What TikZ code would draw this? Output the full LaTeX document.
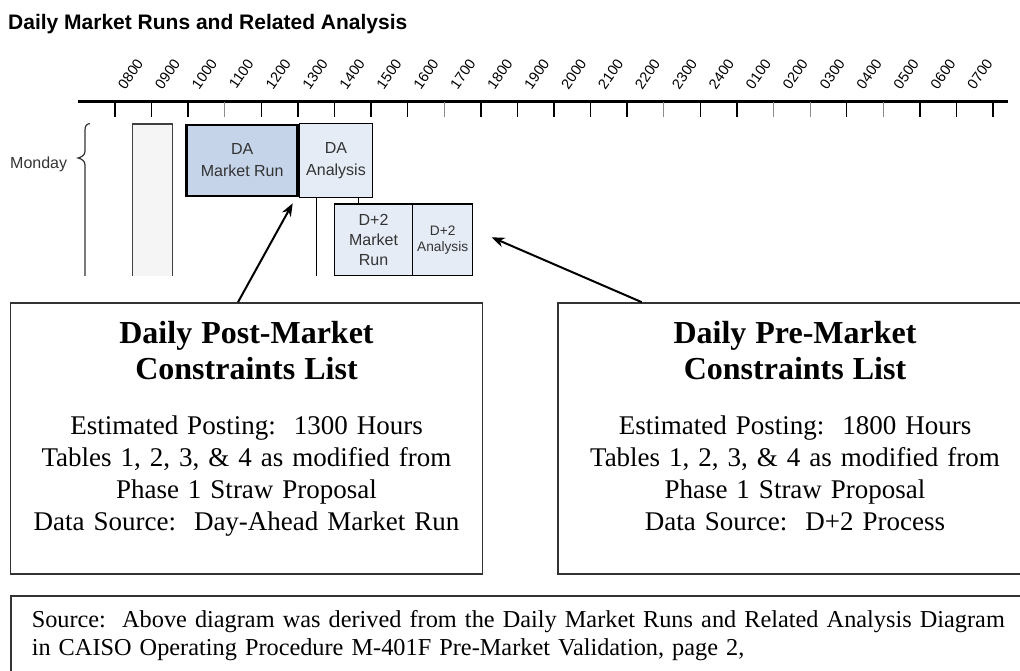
\documentclass[tikz,border=0pt]{standalone}
\usepackage{fontspec}
\setmainfont{Liberation Serif}
\setsansfont{Liberation Sans}
\usepackage[dvipsnames]{xcolor}
\usetikzlibrary{arrows.meta, shapes}
\definecolor{runblue}{HTML}{C6D4EA}
\definecolor{anablue}{HTML}{E6ECF6}
\definecolor{pregray}{HTML}{F5F5F5}
\definecolor{labelgray}{HTML}{333333}
\newcommand{\listhead}{\bfseries\fontsize{32}{36.7}\selectfont}
\tikzstyle{hourlabel} = [rotate=55, inner sep=0pt, font=\sffamily\fontsize{14.5}{14.5}\selectfont, text=black]
\tikzstyle{hourtick} = [line width=1.5pt, draw=black]
\tikzstyle{halftick} = [line width=1pt, draw=black!45]
\tikzstyle{runbox} = [rectangle, draw=black, line width=1.2pt, fill=anablue, text centered, align=center, inner sep=1pt, text=labelgray, font=\sffamily\fontsize{16}{22}\selectfont]
\tikzstyle{listbox} = [rectangle, draw=black!80, line width=1.5pt, fill=white, minimum width=472pt, minimum height=271pt, text width=450pt, align=center, font=\fontsize{27}{31.7}\selectfont]
\tikzstyle{sourcebox} = [rectangle, draw=black!80, line width=1.5pt, anchor=north west, inner xsep=21pt, inner ysep=15pt, text width=1000pt, align=left, font=\fontsize{24.3}{27.3}\selectfont]
\tikzstyle{arrow} = [line width=2pt, -{Stealth[length=13pt, width=10pt]}]

\begin{document}
\begin{tikzpicture}[x=1pt, y=-1pt]

\useasboundingbox (0,0) rectangle (1020,670);
\clip (0,0) rectangle (1020,670);

\node (title) [anchor=base west, inner sep=0pt, font=\sffamily\bfseries\fontsize{21}{24}\selectfont] at (8,29.3) {Daily Market Runs and Related Analysis};

% time scale
\foreach \lab [count=\k from 0] in {0800,0900,1000,1100,1200,1300,1400,1500,1600,1700,1800,1900,2000,2100,2200,2300,2400,0100,0200,0300,0400,0500,0600,0700}
  \node (h\k) [hourlabel] at ({130.5+36.93*\k},74) {\lab};
\draw [line width=3pt] (78,101.5) -- (1008,101.5);
\foreach \k in {0,1,2,4,5,6,7,8,10,11,12,13,14,16,17,20,22,23,24}
  \draw [hourtick] ({115+36.58*\k},101.5) -- ++(0,15.5);
\foreach \k in {3,9,15,18,19,21}
  \draw [halftick] ({115+36.58*\k},101.5) -- ++(0,15.5);

\node (monday) [anchor=base west, inner sep=0pt, font=\sffamily\fontsize{16}{16}\selectfont, text=labelgray] at (10,168) {Monday};

\begin{scope}
\clip (0,0) rectangle (1020,275);
\draw [line width=1.2pt, black!80] (90,123.5) .. controls (86.5,124) and (85,126) .. (85,130) -- (85,151) .. controls (85,155) and (82,157) .. (78,158) .. controls (82,159) and (85,161) .. (85,165) -- (85,290);

\node (prerun) [runbox, fill=pregray, draw=black!75, minimum width=40pt, minimum height=170pt] at (152.3,209) {};
\node (daana) [runbox, minimum width=73.4pt, minimum height=74pt] at (336,160.5) {DA\\Analysis};
\node (darun) [runbox, fill=runblue, line width=2.8pt, minimum width=111pt, minimum height=71pt] at (242.2,160.5) {DA\\Market Run};
\node (d2run) [runbox, font=\sffamily\fontsize{16}{20}\selectfont, minimum width=78.4pt, minimum height=72pt] at (373.5,240) {D+2\\Market\\Run};
\node (d2ana) [runbox, font=\sffamily\fontsize{13.7}{16}\selectfont, minimum width=60pt, minimum height=72pt] at (442.7,240) {D+2\\Analysis};

\draw [line width=1.2pt] ([xshift=-19.3pt]daana.south) -- ++(0,100);
\draw [line width=1.2pt] ([xshift=22.3pt]daana.south) -- ([xshift=22.3pt]daana.south |- d2run.north);
\end{scope}

% constraint lists
\node (postlist) [listbox] at (246.5,438.4) {{\listhead Daily Post-Market\\[5pt] Constraints List}\\[23.3pt] Estimated Posting:~~1300 Hours\\ Tables 1, 2, 3, \& 4 as modified from\\ Phase 1 Straw Proposal\\ Data Source:~~Day-Ahead Market Run\\[-6pt]\mbox{}};
\node (prelist) [listbox, minimum width=474pt] at (795,438.4) {{\listhead Daily Pre-Market\\[5pt] Constraints List}\\[23.3pt] Estimated Posting:~~1800 Hours\\ Tables 1, 2, 3, \& 4 as modified from\\ Phase 1 Straw Proposal\\ Data Source:~~D+2 Process\\[-6pt]\mbox{}};

\coordinate (postend) at (292.7,203.3);
\coordinate (preend) at (491.7,237.3);
\draw [arrow] ([xshift=-8.5pt]postlist.north) -- (postend);
\draw [arrow] ([xshift=-153.3pt]prelist.north) -- (preend);

\node (source) [sourcebox] at (10,595) {Source:~~Above diagram was derived from the Daily Market Runs and Related Analysis Diagram\\ in CAISO Operating Procedure M-401F Pre-Market Validation, page 2,};

\end{tikzpicture}
\end{document}
